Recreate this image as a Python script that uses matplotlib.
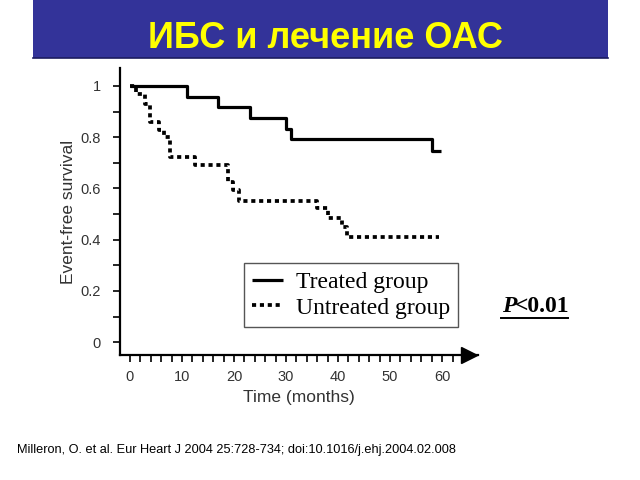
import matplotlib.pyplot as plt
from matplotlib.patches import Rectangle
from matplotlib.lines import Line2D
from matplotlib.ticker import MultipleLocator, FixedLocator

# Kaplan-Meier steps
treated_t = [0, 11, 17, 23, 30, 31, 58, 59.7]
treated_s = [1.0, 0.958, 0.917, 0.875, 0.833, 0.792, 0.745, 0.745]

untreated_t = [0, 1.1, 3.0, 3.8, 5.6, 6.5, 7.8, 12.6, 18.9, 19.9, 21.0, 36.0, 38.0, 40.8, 41.7, 59.5]
untreated_s = [1.0, 0.97, 0.93, 0.86, 0.828, 0.80, 0.724, 0.69, 0.626, 0.593, 0.552, 0.525, 0.483, 0.448, 0.41, 0.41]

series_labels = ['Treated group', 'Untreated group']
x_ticks = [0, 10, 20, 30, 40, 50, 60]
x_minor = list(range(0, 64, 2))
y_ticks = [0, 0.2, 0.4, 0.6, 0.8, 1]
y_ticklabels = ['0', '0.2', '0.4', '0.6', '0.8', '1']

sans = 'Liberation Sans'
serif = 'Liberation Serif'
grey_txt = '#333333'

fig = plt.figure(figsize=(6.4, 4.8), dpi=100, facecolor='white')

# title banner
fig.patches.append(Rectangle((33/640, 1-58/480), 575/640, 58/480, transform=fig.transFigure,
                             facecolor='#333399', edgecolor='none', zorder=0))
fig.lines.append(Line2D([33/640, 608/640], [1-57.5/480, 1-57.5/480], transform=fig.transFigure,
                        color='#1c1c60', linewidth=1.2))
fig.text(0.509, 1-38/480, 'ИБС и лечение ОАС', ha='center', va='center',
         fontsize=26, fontweight='bold', color='#ffff00', family=sans)

ax = fig.add_axes([120/640, 1-355/480, (478-120)/640, (355-68)/480])
ax.set_xlim(-1.9, 66.9)
ax.set_ylim(-0.05, 1.07)

ax.step(treated_t, treated_s, where='post', color='black', linewidth=2.3,
        label=series_labels[0], solid_capstyle='butt')
ax.step(untreated_t, untreated_s, where='post', color='black', linewidth=2.7,
        linestyle=(0, (1.1, 1.0)), label=series_labels[1], dash_capstyle='butt')

ax.spines['top'].set_visible(False)
ax.spines['right'].set_visible(False)
for s in ['left', 'bottom']:
    ax.spines[s].set_linewidth(1.6)
    ax.spines[s].set_color('black')

# arrow head on x axis
ax.plot([0.975], [0], marker='>', markersize=11, color='black', transform=ax.transAxes,
        clip_on=False)

ax.set_xticks(x_ticks)
ax.xaxis.set_minor_locator(FixedLocator(x_minor))
ax.set_yticks(y_ticks)
ax.set_yticklabels(y_ticklabels)
ax.yaxis.set_minor_locator(MultipleLocator(0.1))
ax.tick_params(axis='both', which='both', direction='out', length=5, width=1.2, color='black')
ax.tick_params(axis='x', which='major', pad=6, labelsize=10.5, labelcolor=grey_txt)
ax.tick_params(axis='y', which='major', pad=9, labelsize=10.5, labelcolor=grey_txt)
for lbl in ax.get_xticklabels() + ax.get_yticklabels():
    lbl.set_family(sans)

ax.set_xlabel('Time (months)', fontsize=12.5, color=grey_txt, family=sans, labelpad=4)
ax.set_ylabel('Event-free survival', fontsize=12.5, color=grey_txt, family=sans, labelpad=3)

leg = ax.legend(loc='lower left', bbox_to_anchor=(244/640, 1-327/480), bbox_transform=fig.transFigure,
                borderaxespad=0, prop={'family': serif, 'size': 17}, handlelength=1.3,
                handletextpad=0.55, labelspacing=0.18, borderpad=0.35, fancybox=False,
                framealpha=1)
leg.get_frame().set_edgecolor('#555555')
leg.get_frame().set_linewidth(1.0)

# P value, underlined
fig.text(502/640, 1-307/480, 'P', ha='left', va='center', fontsize=17, fontweight='bold',
         fontstyle='italic', family=serif, color='black')
fig.text(515/640, 1-307/480, '<0.01', ha='left', va='center', fontsize=17, fontweight='bold',
         family=serif, color='black')
fig.lines.append(Line2D([501/640, 568/640], [1-318/480, 1-318/480], transform=fig.transFigure,
                        color='black', linewidth=1.4))

fig.text(17/640, 1-450/480, 'Milleron, O. et al. Eur Heart J 2004 25:728-734; doi:10.1016/j.ehj.2004.02.008',
         ha='left', va='center', fontsize=9.2, family=sans, color='black')

fig.savefig('out.png', dpi=100, facecolor='white')
